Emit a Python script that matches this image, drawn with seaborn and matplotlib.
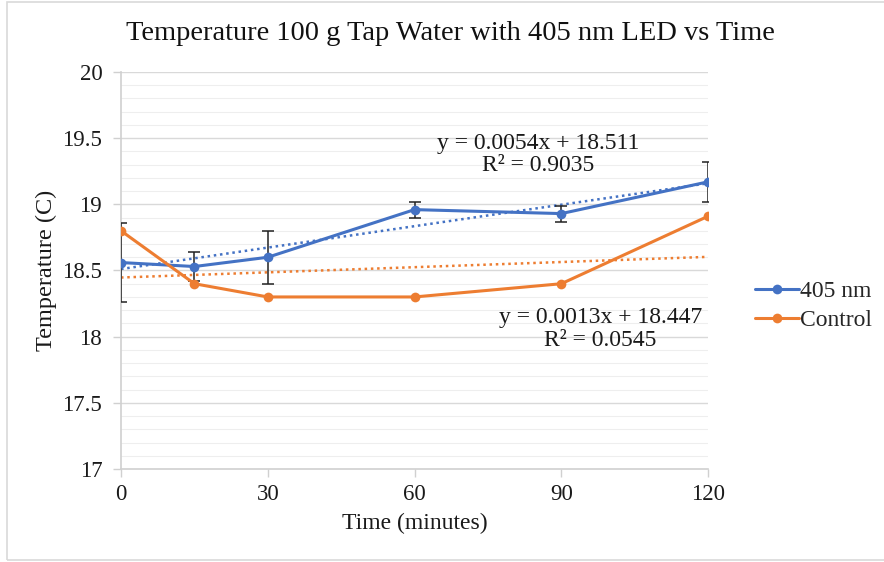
import numpy as np
import pandas as pd
import matplotlib
matplotlib.use("Agg")
import matplotlib.pyplot as plt
import seaborn as sns
from matplotlib.patches import Rectangle

time_min = [0, 15, 30, 60, 90, 120]
temp_405 = [18.56, 18.53, 18.60, 18.96, 18.93, 19.17]
err_405 = [0.30, 0.11, 0.20, 0.06, 0.06, 0.15]
temp_control = [18.80, 18.40, 18.30, 18.30, 18.40, 18.91]
series_names = ["405 nm", "Control"]
trend_405 = (0.0054, 18.511)
trend_control = (0.0013, 18.447)
eq_405 = ["y = 0.0054x + 18.511", "R² = 0.9035"]
eq_control = ["y = 0.0013x + 18.447", "R² = 0.0545"]
x_ticks = [0, 30, 60, 90, 120]
y_ticks = [17, 17.5, 18, 18.5, 19, 19.5, 20]
y_tick_labels = ["17", "17.5", "18", "18.5", "19", "19.5", "20"]

sns.set_theme(style="white")
plt.rcParams['font.family'] = ['Liberation Serif', 'DejaVu Serif']

blue = "#4472C4"
orange = "#ED7D31"
txt = "#1a1a1a"

df = pd.DataFrame({
    "Time": time_min * 2,
    "Temp": temp_405 + temp_control,
    "Series": [series_names[0]] * 6 + [series_names[1]] * 6,
})

fig = plt.figure(figsize=(8.84, 5.62), dpi=100)
ax = fig.add_axes([0.1369, 0.1655, 0.8010 - 0.1369, 0.8719 - 0.1655])

# gridlines
for v in np.arange(17.1, 20.0, 0.1):
    if abs(v * 2 - round(v * 2)) > 1e-6:
        ax.axhline(v, color="#EEEEEE", lw=0.8, zorder=0)
for v in y_ticks[1:]:
    ax.axhline(v, color="#D9D9D9", lw=1.0, zorder=0)

# trendlines
xs = np.array([0, 120])
ax.plot(xs, trend_405[0] * xs + trend_405[1], color=blue, lw=1.8, ls=(0, (1, 1.5)), zorder=2)
ax.plot(xs, trend_control[0] * xs + trend_control[1], color=orange, lw=1.8, ls=(0, (1, 1.5)), zorder=2)

# error bars
eb = ax.errorbar(time_min, temp_405, yerr=err_405, fmt="none", ecolor="#222222", elinewidth=1.1,
                 capsize=4, capthick=1.1, zorder=3)
for cap in eb[1]:
    cap.set_clip_on(True)
    cap.set_clip_path(ax.patch)

sns.lineplot(data=df, x="Time", y="Temp", hue="Series", palette=[blue, orange],
             marker="o", markersize=7, markeredgewidth=0, linewidth=2.2, ax=ax, zorder=4,
             legend=True)

ax.set_xlim(0, 120)
ax.set_ylim(17, 20)
ax.set_xticks(x_ticks)
ax.set_xticklabels([str(t) for t in x_ticks])
ax.set_yticks(y_ticks)
ax.set_yticklabels(y_tick_labels)
ax.tick_params(axis="both", labelsize=16.5, colors=txt, length=6, width=1, direction="out",
               bottom=True, left=True)
ax.tick_params(axis="x", color="#D0D0D0", pad=4.5)
ax.tick_params(axis="y", color="#D0D0D0", pad=7.5)
for s in ["top", "right"]:
    ax.spines[s].set_visible(False)
for s in ["left", "bottom"]:
    ax.spines[s].set_color("#D0D0D0")
    ax.spines[s].set_linewidth(1.2)

ax.set_xlabel("Time (minutes)", fontsize=17, color=txt, labelpad=6)
ax.set_ylabel("Temperature (C)", fontsize=17.5, color=txt, labelpad=4)
fig.text(0.509, 1 - 33 / 562, "Temperature 100 g Tap Water with 405 nm LED vs Time",
         fontsize=20.5, color="#111111", ha="center", va="center")

ax.text(85.3, 19.463, eq_405[0], fontsize=17, ha="center", va="center", color=txt)
ax.text(85.3, 19.29, eq_405[1], fontsize=17, ha="center", va="center", color=txt)
ax.text(98, 18.148, eq_control[0], fontsize=17, ha="center", va="center", color=txt)
ax.text(98, 17.974, eq_control[1], fontsize=17, ha="center", va="center", color=txt)

handles, labels = ax.get_legend_handles_labels()
ax.get_legend().remove()
fig.legend(handles, labels, loc="center left", bbox_to_anchor=(755 / 884, 1 - 306 / 562),
           frameon=False, fontsize=17, handlelength=1.85, handletextpad=0.05,
           labelspacing=0.3, borderaxespad=0, borderpad=0)

fig.add_artist(Rectangle((0.008, 0.004), 1.1, 0.992, transform=fig.transFigure, fill=False,
                         edgecolor="#D9D9D9", lw=1.2))

fig.savefig("out.png", dpi=100, facecolor="white")
